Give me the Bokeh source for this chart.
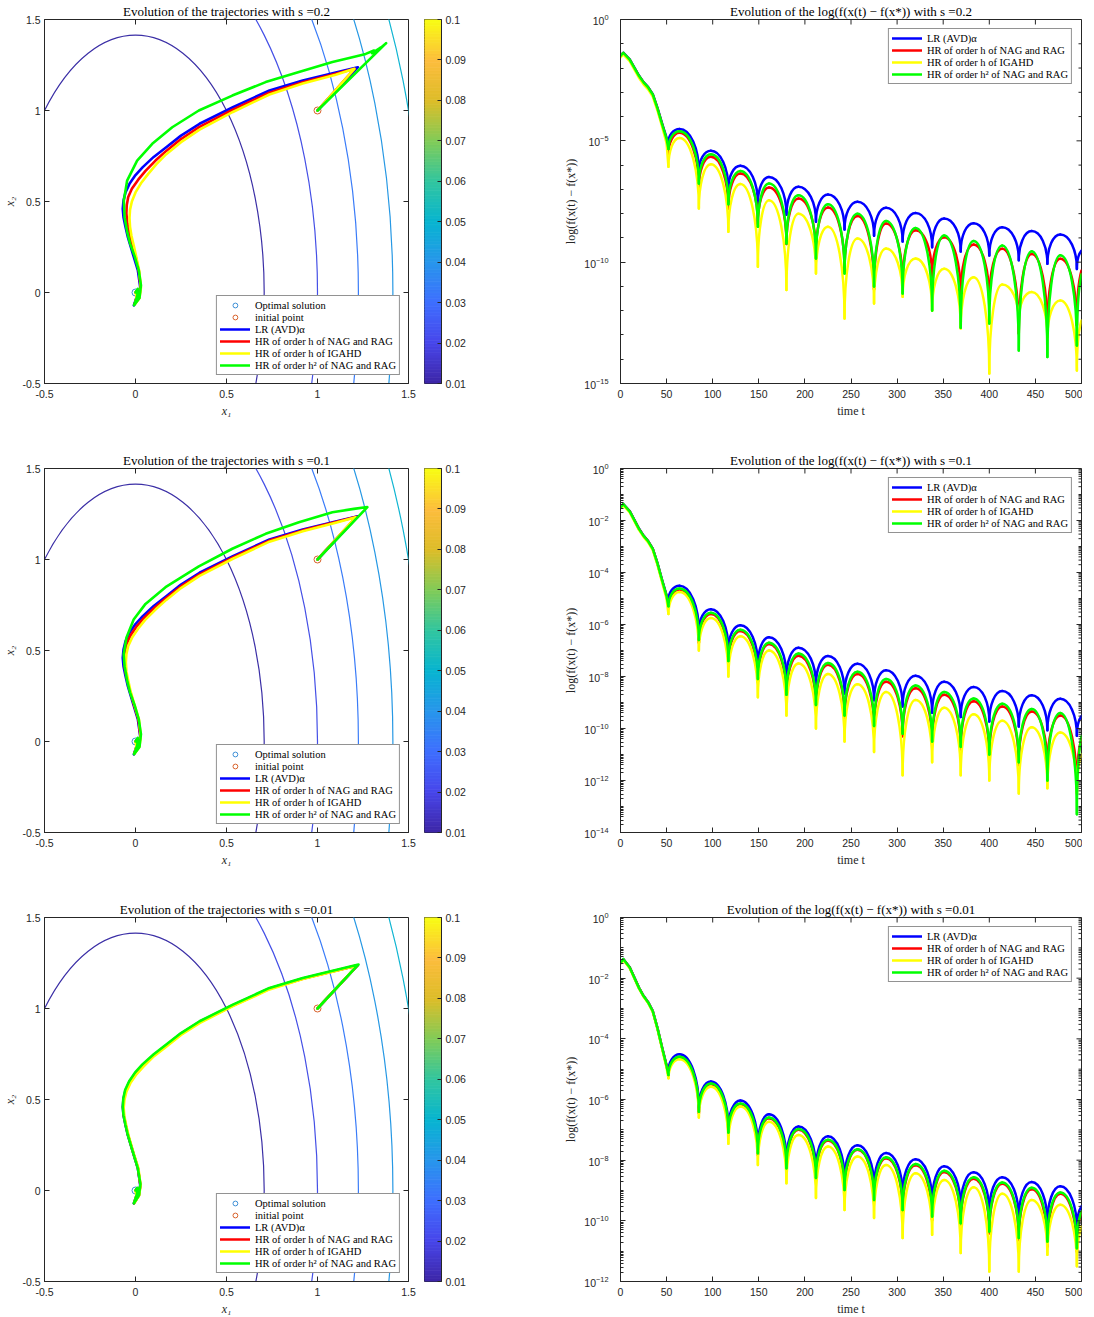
from bokeh.plotting import figure
from bokeh.models import (Range1d, FixedTicker, PrintfTickFormatter, Legend, LegendItem)
from bokeh.layouts import column, row
from bokeh.embed import file_html
from bokeh.resources import INLINE

# ---------------- data ----------------
S_LABELS = ["0.2", "0.1", "0.01"]
SERIES_NAMES = ["LR (AVD)α", "HR of order h of NAG and RAG",
                "HR of order h of IGAHD", "HR of order h² of NAG and RAG"]
SERIES_COLORS = ["#0000ff", "#ff0000", "#ffff00", "#00ff00"]

# contour levels of f(x) = A1*x1^2 + A2*x2^2
F_COEFS = [2.0, 0.5]
CONTOUR_LEVELS = [1, 2, 3, 4, 5]
CB_TICKS = [0.01, 0.02, 0.03, 0.04, 0.05, 0.06, 0.07, 0.08, 0.09, 0.1]
AXIS_TICKS_2D = [-0.5, 0, 0.5, 1, 1.5]
TIME_TICKS = [0, 50, 100, 150, 200, 250, 300, 350, 400, 450, 500]
OPT_POINT = [0.0, 0.0]
INIT_POINT = [1.0, 1.0]

# trajectories (x1, x2) -- LR is the same continuous trajectory in every panel
LR_X1 = [1.0, 1.222, 1.10, 0.919, 0.736, 0.535, 0.352, 0.25, 0.169, 0.10, 0.040, 0.0, -0.033, -0.055,
         -0.066, -0.07, -0.066, -0.055, -0.042, -0.015, 0.013, 0.026, 0.018, -0.009, 0.005, 0.008, 0.0]
LR_X2 = [1.0, 1.238, 1.209, 1.165, 1.11, 1.018, 0.927, 0.862, 0.798, 0.745, 0.689, 0.645, 0.597, 0.55,
         0.505, 0.46, 0.414, 0.36, 0.304, 0.213, 0.121, 0.029, -0.026, -0.071, -0.03, 0.01, 0.0]

S02_RED_X1 = [1.0, 1.203, 1.10, 0.919, 0.736, 0.535, 0.352, 0.25, 0.169, 0.11, 0.055, 0.015, -0.02, -0.04,
              -0.048, -0.05, -0.045, -0.035, -0.02, 0.0, 0.018, 0.028, 0.02, -0.005, 0.006, 0.006, 0.0]
S02_RED_X2 = [1.0, 1.229, 1.202, 1.155, 1.098, 1.004, 0.91, 0.843, 0.778, 0.725, 0.668, 0.62, 0.57, 0.525,
              0.48, 0.435, 0.38, 0.33, 0.27, 0.2, 0.121, 0.029, -0.03, -0.065, -0.025, 0.008, 0.0]
S02_YEL_X1 = [1.0, 1.203, 1.10, 0.919, 0.736, 0.535, 0.352, 0.25, 0.169, 0.115, 0.07, 0.03, 0.0, -0.02,
              -0.03, -0.033, -0.03, -0.022, -0.01, 0.003, 0.02, 0.03, 0.022, 0.0, 0.006, 0.0]
S02_YEL_X2 = [1.0, 1.229, 1.197, 1.148, 1.088, 0.992, 0.895, 0.826, 0.76, 0.705, 0.652, 0.6, 0.55, 0.5,
              0.455, 0.41, 0.36, 0.31, 0.26, 0.2, 0.121, 0.029, -0.03, -0.06, -0.02, 0.0]
S02_GRN_X1 = [1.0, 1.377, 1.33, 1.345, 1.30, 1.31, 1.265, 1.18, 1.082, 0.898, 0.715, 0.532, 0.348, 0.202,
              0.092, 0.009, -0.046, -0.064, -0.06, -0.045, -0.03, -0.005, 0.018, 0.03, 0.022, -0.008,
              0.01, 0.012, 0.0]
S02_GRN_X2 = [1.0, 1.37, 1.33, 1.345, 1.315, 1.33, 1.311, 1.29, 1.266, 1.211, 1.156, 1.082, 1.0, 0.908,
              0.817, 0.725, 0.615, 0.505, 0.414, 0.33, 0.27, 0.2, 0.121, 0.04, -0.03, -0.07,
              -0.02, 0.02, 0.0]

S01_RED_X1 = [1.0, 1.215, 1.10, 0.919, 0.736, 0.535, 0.352, 0.25, 0.169, 0.105, 0.047, 0.007, -0.026, -0.048,
              -0.058, -0.061, -0.058, -0.048, -0.035, -0.01, 0.016, 0.027, 0.019, -0.007, 0.005, 0.007, 0.0]
S01_RED_X2 = [1.0, 1.235, 1.206, 1.16, 1.104, 1.011, 0.918, 0.852, 0.788, 0.735, 0.679, 0.633, 0.585, 0.538,
              0.492, 0.447, 0.4, 0.35, 0.295, 0.207, 0.121, 0.029, -0.028, -0.068, -0.028, 0.009, 0.0]
S01_YEL_X1 = [1.0, 1.21, 1.10, 0.919, 0.736, 0.535, 0.352, 0.25, 0.169, 0.11, 0.053, 0.014, -0.018, -0.04,
              -0.05, -0.053, -0.05, -0.04, -0.028, -0.005, 0.019, 0.029, 0.021, -0.004, 0.005, 0.0]
S01_YEL_X2 = [1.0, 1.232, 1.202, 1.155, 1.098, 1.004, 0.91, 0.843, 0.778, 0.725, 0.668, 0.62, 0.572, 0.525,
              0.48, 0.435, 0.385, 0.335, 0.28, 0.2, 0.121, 0.029, -0.03, -0.065, -0.025, 0.0]
S01_GRN_X1 = [1.0, 1.274, 1.20, 1.082, 0.898, 0.715, 0.532, 0.348, 0.165, 0.055, -0.01, -0.05, -0.065,
              -0.06, -0.045, -0.03, -0.005, 0.018, 0.03, 0.022, -0.008, 0.01, 0.012, 0.0]
S01_GRN_X2 = [1.0, 1.288, 1.278, 1.26, 1.205, 1.141, 1.059, 0.962, 0.848, 0.756, 0.67, 0.57, 0.48,
              0.414, 0.33, 0.27, 0.2, 0.121, 0.04, -0.03, -0.07, -0.02, 0.02, 0.0]

S001_RED_X1 = [1.0, 1.22, 1.10, 0.919, 0.736, 0.535, 0.352, 0.25, 0.169, 0.10, 0.042, 0.002, -0.031, -0.053,
               -0.064, -0.068, -0.064, -0.053, -0.04, -0.013, 0.014, 0.027, 0.019, -0.008, 0.005, 0.008, 0.0]
S001_RED_X2 = [1.0, 1.237, 1.208, 1.164, 1.108, 1.016, 0.924, 0.859, 0.795, 0.742, 0.686, 0.642, 0.594, 0.547,
               0.502, 0.457, 0.411, 0.357, 0.301, 0.21, 0.121, 0.029, -0.027, -0.07, -0.03, 0.01, 0.0]
S001_YEL_X1 = [1.0, 1.218, 1.10, 0.919, 0.736, 0.535, 0.352, 0.25, 0.169, 0.102, 0.045, 0.005, -0.028, -0.05,
               -0.061, -0.065, -0.061, -0.05, -0.037, -0.011, 0.016, 0.028, 0.02, -0.006, 0.005, 0.0]
S001_YEL_X2 = [1.0, 1.236, 1.206, 1.162, 1.105, 1.013, 0.92, 0.855, 0.79, 0.738, 0.682, 0.638, 0.59, 0.543,
               0.498, 0.453, 0.407, 0.353, 0.297, 0.207, 0.121, 0.029, -0.028, -0.068, -0.028, 0.0]
S001_GRN_X1 = [1.0, 1.225, 1.10, 0.919, 0.736, 0.535, 0.352, 0.25, 0.169, 0.10, 0.038, -0.002, -0.035, -0.057,
               -0.067, -0.07, -0.066, -0.055, -0.042, -0.015, 0.013, 0.027, 0.019, -0.009, 0.008, 0.01, 0.0]
S001_GRN_X2 = [1.0, 1.242, 1.212, 1.168, 1.113, 1.021, 0.93, 0.865, 0.802, 0.749, 0.693, 0.649, 0.6, 0.552,
               0.505, 0.46, 0.414, 0.36, 0.304, 0.213, 0.121, 0.035, -0.026, -0.071, -0.02, 0.015, 0.0]

# log10(f(x(t)) - f(x*)) : troughs, peaks, end value, start segment
TROUGH_T = [52, 85, 117, 149, 180, 212, 243, 275, 306, 338, 369, 400, 432, 463, 495]
PEAK_T = [64, 98, 130, 161, 193, 225, 257, 288, 320, 351, 383, 414, 446, 477]
END_T = 500
START_T = [0, 3, 10, 20, 25, 30, 35, 40, 45, 50]

LR_START = [-1.49, -1.37, -1.64, -2.31, -2.58, -2.79, -3.08, -3.63, -4.27, -4.88]
LR_TROUGH = [-5.08, -6.27, -6.98, -7.58, -8.05, -8.33, -8.65, -8.91, -9.15, -9.39, -9.56, -9.73, -9.92, -10.07, -10.28]
LR_PEAK = [-4.51, -5.41, -6.03, -6.49, -6.89, -7.21, -7.51, -7.76, -7.97, -8.2, -8.4, -8.56, -8.72, -8.86]
LR_END = -9.52

S02_RED_START = [-1.5, -1.38, -1.66, -2.33, -2.6, -2.81, -3.1, -3.66, -4.31, -4.95]
S02_RED_TROUGH = [-5.55, -6.92, -7.79, -8.43, -9.25, -9.64, -10.36, -11.12, -10.95, -10.6, -11.36, -11.6, -12.94, -12.8, -12.6]
S02_RED_PEAK = [-4.67, -5.66, -6.35, -6.92, -7.38, -7.75, -8.1, -8.41, -8.68, -8.97, -9.27, -9.45, -9.66, -9.86]
S02_RED_END = -10.34
S02_YEL_START = [-1.56, -1.44, -1.72, -2.4, -2.67, -2.88, -3.18, -3.74, -4.4, -5.1]
S02_YEL_TROUGH = [-6.07, -7.79, -8.75, -10.19, -11.15, -10.47, -12.32, -11.7, -11.43, -12.0, -12.73, -14.59, -12.4, -13.09, -14.46]
S02_YEL_PEAK = [-4.88, -5.97, -6.78, -7.45, -8.0, -8.54, -9.02, -9.44, -9.85, -10.27, -10.62, -10.92, -11.23, -11.58]
S02_YEL_END = -12.4
S02_GRN_START = [-1.5, -1.37, -1.65, -2.32, -2.59, -2.8, -3.09, -3.65, -4.3, -4.92]
S02_GRN_TROUGH = [-5.34, -6.76, -7.61, -8.54, -9.23, -9.85, -10.47, -11.0, -11.29, -11.99, -12.7, -12.53, -13.64, -13.91, -13.43]
S02_GRN_PEAK = [-4.6, -5.55, -6.24, -6.76, -7.24, -7.61, -8.0, -8.3, -8.59, -8.9, -9.13, -9.31, -9.55, -9.72]
S02_GRN_END = -10.5

S01_RED_START = [-1.5, -1.38, -1.65, -2.32, -2.59, -2.8, -3.09, -3.65, -4.3, -4.92]
S01_RED_TROUGH = [-5.35, -6.7, -7.5, -8.2, -8.8, -9.2, -9.6, -10.0, -10.3, -10.6, -10.8, -11.1, -11.4, -11.5, -12.3]
S01_RED_PEAK = [-4.65, -5.6, -6.25, -6.75, -7.2, -7.55, -7.9, -8.2, -8.45, -8.7, -8.95, -9.15, -9.35, -9.5]
S01_RED_END = -10.4
S01_YEL_START = [-1.53, -1.41, -1.69, -2.36, -2.63, -2.84, -3.14, -3.7, -4.36, -5.02]
S01_YEL_TROUGH = [-5.6, -7.0, -8.0, -8.8, -9.5, -10.0, -10.5, -10.9, -11.8, -11.3, -11.8, -12.0, -12.5, -12.3, -12.5]
S01_YEL_PEAK = [-4.75, -5.75, -6.45, -7.0, -7.5, -7.9, -8.3, -8.6, -8.9, -9.2, -9.45, -9.7, -9.95, -10.15]
S01_YEL_END = -11.0
S01_GRN_START = [-1.5, -1.37, -1.65, -2.32, -2.59, -2.8, -3.09, -3.64, -4.29, -4.91]
S01_GRN_TROUGH = [-5.3, -6.6, -7.4, -8.1, -8.7, -9.1, -9.5, -9.9, -10.2, -10.5, -10.7, -11.0, -11.3, -12.0, -13.3]
S01_GRN_PEAK = [-4.62, -5.55, -6.2, -6.7, -7.12, -7.48, -7.82, -8.1, -8.35, -8.6, -8.85, -9.05, -9.25, -9.4]
S01_GRN_END = -10.3

S001_RED_START = [-1.5, -1.38, -1.65, -2.32, -2.59, -2.8, -3.09, -3.64, -4.28, -4.9]
S001_RED_TROUGH = [-5.21, -6.45, -7.17, -7.83, -8.32, -8.65, -9.03, -9.36, -9.69, -9.97, -10.13, -10.41, -10.63, -10.85, -11.01]
S001_RED_PEAK = [-4.61, -5.49, -6.15, -6.62, -7.0, -7.35, -7.66, -7.94, -8.17, -8.39, -8.61, -8.78, -8.96, -9.11]
S001_RED_END = -9.73
S001_YEL_START = [-1.52, -1.4, -1.67, -2.34, -2.61, -2.82, -3.11, -3.67, -4.32, -4.96]
S001_YEL_TROUGH = [-5.3, -6.59, -7.46, -8.16, -8.76, -9.25, -9.64, -9.91, -10.57, -10.46, -11.06, -11.67, -11.67, -11.12, -11.5]
S001_YEL_PEAK = [-4.67, -5.58, -6.23, -6.73, -7.17, -7.55, -7.88, -8.16, -8.43, -8.65, -8.89, -9.11, -9.31, -9.47]
S001_YEL_END = -10.19
S001_GRN_START = [-1.5, -1.37, -1.65, -2.32, -2.59, -2.8, -3.09, -3.64, -4.28, -4.9]
S001_GRN_TROUGH = [-5.19, -6.4, -7.09, -7.77, -8.27, -8.59, -8.98, -9.31, -9.64, -9.86, -10.08, -10.35, -10.57, -10.68, -10.9]
S001_GRN_PEAK = [-4.59, -5.47, -6.13, -6.59, -6.97, -7.33, -7.64, -7.9, -8.13, -8.35, -8.56, -8.74, -8.91, -9.07]
S001_GRN_END = -9.69

LOG_LOW_EXP = [-15, -14, -12]
LOG_LABEL_STEP = [5, 2, 2]

# ---------------- style ----------------
AX = "#262626"
SERIF = "Liberation Serif"
SANS = "Liberation Sans"
FRAME_H = 364
TICK_PX = 5
MINOR_PX = 3
PARULA_KEYS = [(0.2422, 0.1504, 0.6603), (0.2803, 0.2782, 0.9221), (0.2440, 0.4358, 0.9988),
               (0.1540, 0.5902, 0.9218), (0.0297, 0.7082, 0.8163), (0.1938, 0.7758, 0.6251),
               (0.5044, 0.7993, 0.3480), (0.8634, 0.7406, 0.1596), (0.9900, 0.7400, 0.2400),
               (0.9769, 0.9839, 0.0805)]
CONTOUR_COLORS = ["#3b2fa6", "#4550e6", "#3a7cf8", "#2698e4", "#10b5d2"]


def parula(n):
    out = []
    m = len(PARULA_KEYS) - 1
    for i in range(n):
        t = i / (n - 1) * m
        j = min(int(t), m - 1)
        f = t - j
        c = [PARULA_KEYS[j][k] * (1 - f) + PARULA_KEYS[j + 1][k] * f for k in range(3)]
        out.append("#%02x%02x%02x" % tuple(int(round(v * 255)) for v in c))
    return out


PARULA = parula(128)


def style_axis(ax, standoff=5):
    ax.axis_line_color = AX
    ax.major_tick_line_color = AX
    ax.minor_tick_line_color = AX
    ax.major_tick_in = TICK_PX
    ax.major_tick_out = 0
    ax.minor_tick_in = MINOR_PX
    ax.minor_tick_out = 0
    ax.major_label_text_font = SANS
    ax.major_label_text_font_size = "10.5px"
    ax.major_label_text_color = AX
    ax.major_label_standoff = standoff
    ax.axis_label_text_font = SERIF
    ax.axis_label_text_font_size = "12px"
    ax.axis_label_text_color = AX
    ax.axis_label_text_font_style = "normal"
    ax.axis_label_standoff = 3


def base_fig(bottom, left, right, fw, **kw):
    p = figure(frame_width=fw, frame_height=FRAME_H, output_backend="svg", toolbar_location=None,
               min_border_left=left, min_border_right=right, min_border_top=17,
               min_border_bottom=bottom, background_fill_color="white", border_fill_color="white", **kw)
    p.grid.visible = False
    p.outline_line_color = AX
    p.outline_line_width = 1
    p.title.text_font = SERIF
    p.title.text_font_size = "13px"
    p.title.text_font_style = "normal"
    p.title.text_color = "black"
    p.title.align = "center"
    p.title.standoff = 2
    return p


def style_legend(leg, margin):
    leg.label_text_font = SERIF
    leg.label_text_font_size = "10.5px"
    leg.label_text_color = "black"
    leg.glyph_width = 30
    leg.glyph_height = 12
    leg.label_height = 12
    leg.spacing = 0
    leg.padding = 3
    leg.margin = margin
    leg.label_standoff = 5
    leg.border_line_color = AX
    leg.border_line_width = 1
    leg.background_fill_color = "white"
    leg.background_fill_alpha = 1


def traj_fig(idx, series, bottom):
    p = base_fig(bottom, 37, 16, 364, x_range=Range1d(-0.5, 1.5), y_range=Range1d(-0.5, 1.5))
    p.title.text = "Evolution of the trajectories with s =" + S_LABELS[idx]
    widths = [2 * (lv / F_COEFS[0]) ** 0.5 for lv in CONTOUR_LEVELS]
    heights = [2 * (lv / F_COEFS[1]) ** 0.5 for lv in CONTOUR_LEVELS]
    p.ellipse(x=[0] * len(CONTOUR_LEVELS), y=[0] * len(CONTOUR_LEVELS), width=widths, height=heights,
              fill_color=None, line_color=CONTOUR_COLORS, line_width=1.2)
    r_opt = p.scatter([OPT_POINT[0]], [OPT_POINT[1]], marker="circle", size=7, fill_color=None,
                      line_color="#3d8fd6", line_width=1)
    r_ini = p.scatter([INIT_POINT[0]], [INIT_POINT[1]], marker="circle", size=7, fill_color=None,
                      line_color="#d9622b", line_width=1)
    rs = []
    for (xs, ys), c in zip(series, SERIES_COLORS):
        rs.append(p.line(xs, ys, line_color=c, line_width=2.6, line_join="round", line_cap="round"))
    # mirror ticks on the top and right edges (inward, like the box axes)
    du = 2.0 / 364
    p.segment(x0=AXIS_TICKS_2D, y0=[1.5] * 5, x1=AXIS_TICKS_2D, y1=[1.5 - TICK_PX * du] * 5,
              line_color=AX, line_width=1)
    p.segment(x0=[1.5] * 5, y0=AXIS_TICKS_2D, x1=[1.5 - TICK_PX * du] * 5, y1=AXIS_TICKS_2D,
              line_color=AX, line_width=1)
    items = [LegendItem(label="Optimal solution", renderers=[r_opt]),
             LegendItem(label="initial point", renderers=[r_ini])]
    items += [LegendItem(label=n, renderers=[r]) for n, r in zip(SERIES_NAMES, rs)]
    leg = Legend(items=items, location="bottom_right")
    style_legend(leg, 8)
    p.add_layout(leg)
    style_axis(p.xaxis[0], 6)
    style_axis(p.yaxis[0], 4)
    p.yaxis[0].axis_label_standoff = 2
    for ax in (p.xaxis[0], p.yaxis[0]):
        ax.ticker = FixedTicker(ticks=AXIS_TICKS_2D)
        ax.formatter = PrintfTickFormatter(format="%g")
        ax.axis_label_text_font_style = "italic"
    p.xaxis[0].axis_label = "x₁"
    p.yaxis[0].axis_label = "x₂"
    return p


def colorbar_fig(bottom):
    p = figure(frame_width=17, frame_height=FRAME_H, output_backend="svg", toolbar_location=None,
               x_range=Range1d(0, 1), y_range=Range1d(CB_TICKS[0], CB_TICKS[-1]),
               x_axis_location=None, y_axis_location="right",
               min_border_left=0, min_border_right=117, min_border_top=17, min_border_bottom=bottom,
               background_fill_color="white", border_fill_color="white")
    p.grid.visible = False
    p.outline_line_color = AX
    n = len(PARULA)
    step = (CB_TICKS[-1] - CB_TICKS[0]) / n
    p.quad(left=0, right=1, bottom=[CB_TICKS[0] + i * step for i in range(n)],
           top=[CB_TICKS[0] + (i + 1) * step for i in range(n)], fill_color=PARULA,
           line_color=PARULA, line_width=0.8)
    ax = p.yaxis[0]
    style_axis(ax, 4)
    ax.major_tick_in = 4
    ax.minor_tick_in = 0
    ax.ticker = FixedTicker(ticks=CB_TICKS)
    ax.formatter = PrintfTickFormatter(format="%g")
    return p


K = 0.5523


def arch_curves(p, start, trough, peak, end, color):
    xs = START_T + [TROUGH_T[0]]
    ys = [10 ** v for v in start + [trough[0]]]
    r = p.line(xs, ys, line_color=color, line_width=2.5, line_join="round", line_cap="round")
    seg = {k: [] for k in ("x0", "y0", "x1", "y1", "cx0", "cy0", "cx1", "cy1")}

    def add(a, la, b, lb, ca, lca, cb_, lcb):
        seg["x0"].append(a); seg["y0"].append(10 ** la)
        seg["x1"].append(b); seg["y1"].append(10 ** lb)
        seg["cx0"].append(ca); seg["cy0"].append(10 ** lca)
        seg["cx1"].append(cb_); seg["cy1"].append(10 ** lcb)

    for i in range(len(PEAK_T)):
        ta, la = TROUGH_T[i], trough[i]
        tp, lp = PEAK_T[i], peak[i]
        tb, lb = TROUGH_T[i + 1], trough[i + 1]
        add(ta, la, tp, lp, ta, la + K * (lp - la), tp - K * (tp - ta), lp)
        add(tp, lp, tb, lb, tp + K * (tb - tp), lp, tb, lb + K * (lp - lb))
    ta, la = TROUGH_T[-1], trough[-1]
    add(ta, la, END_T, end, ta, la + 0.6 * (end - la), END_T - 0.5 * (END_T - ta), end - 0.15 * (end - la))
    p.bezier(line_color=color, line_width=2.5, line_cap="round", **seg)
    return r


def log_fig(idx, series, bottom):
    lo = LOG_LOW_EXP[idx]
    p = base_fig(bottom, 62, 1, 461, x_range=Range1d(0, 500), y_range=Range1d(10.0 ** lo, 1.0),
                 y_axis_type="log")
    p.title.text = "Evolution of the log(f(x(t) − f(x*)) with s =" + S_LABELS[idx]
    rs = [arch_curves(p, *sdata, c) for sdata, c in zip(series, SERIES_COLORS)]
    step = LOG_LABEL_STEP[idx]
    majors = [10.0 ** e for e in range(0, lo - 1, -step)]
    if step == 5:
        minors = [10.0 ** e for e in range(0, lo - 1, -1) if e % step]
    else:
        minors = [m * 10.0 ** e for e in range(lo, 0) for m in range(1, 10) if not (m == 1 and e % step == 0)]
    # mirror ticks on top and right edges
    px_dec = FRAME_H / float(-lo)
    tx = 500.0 / 461
    nt = len(TIME_TICKS)
    p.segment(x0=TIME_TICKS, y0=[1.0] * nt, x1=TIME_TICKS, y1=[10 ** (-TICK_PX / px_dec)] * nt,
              line_color=AX, line_width=1)
    p.segment(x0=[500] * len(majors), y0=majors, x1=[500 - TICK_PX * tx] * len(majors), y1=majors,
              line_color=AX, line_width=1)
    p.segment(x0=[500] * len(minors), y0=minors, x1=[500 - MINOR_PX * tx] * len(minors), y1=minors,
              line_color=AX, line_width=1)
    leg = Legend(items=[LegendItem(label=n, renderers=[r]) for n, r in zip(SERIES_NAMES, rs)],
                 location="top_right")
    style_legend(leg, 9)
    p.add_layout(leg)
    style_axis(p.xaxis[0], 6)
    p.xaxis[0].ticker = FixedTicker(ticks=TIME_TICKS)
    p.xaxis[0].axis_label = "time t"
    style_axis(p.yaxis[0], 12)
    p.yaxis[0].ticker = FixedTicker(ticks=majors, minor_ticks=minors)
    p.yaxis[0].axis_label = "log(f(x(t) − f(x*))"
    return p


TRAJ = [
    [(LR_X1, LR_X2), (S02_RED_X1, S02_RED_X2), (S02_YEL_X1, S02_YEL_X2), (S02_GRN_X1, S02_GRN_X2)],
    [(LR_X1, LR_X2), (S01_RED_X1, S01_RED_X2), (S01_YEL_X1, S01_YEL_X2), (S01_GRN_X1, S01_GRN_X2)],
    [(LR_X1, LR_X2), (S001_RED_X1, S001_RED_X2), (S001_YEL_X1, S001_YEL_X2), (S001_GRN_X1, S001_GRN_X2)],
]
LOGS = [
    [(LR_START, LR_TROUGH, LR_PEAK, LR_END),
     (S02_RED_START, S02_RED_TROUGH, S02_RED_PEAK, S02_RED_END),
     (S02_YEL_START, S02_YEL_TROUGH, S02_YEL_PEAK, S02_YEL_END),
     (S02_GRN_START, S02_GRN_TROUGH, S02_GRN_PEAK, S02_GRN_END)],
    [(LR_START, LR_TROUGH, LR_PEAK, LR_END),
     (S01_RED_START, S01_RED_TROUGH, S01_RED_PEAK, S01_RED_END),
     (S01_YEL_START, S01_YEL_TROUGH, S01_YEL_PEAK, S01_YEL_END),
     (S01_GRN_START, S01_GRN_TROUGH, S01_GRN_PEAK, S01_GRN_END)],
    [(LR_START, LR_TROUGH, LR_PEAK, LR_END),
     (S001_RED_START, S001_RED_TROUGH, S001_RED_PEAK, S001_RED_END),
     (S001_YEL_START, S001_YEL_TROUGH, S001_YEL_PEAK, S001_YEL_END),
     (S001_GRN_START, S001_GRN_TROUGH, S001_GRN_PEAK, S001_GRN_END)],
]

rows = []
for i in range(3):
    bottom = 66 if i < 2 else 32
    rows.append(row(traj_fig(i, TRAJ[i], bottom), colorbar_fig(bottom), log_fig(i, LOGS[i], bottom)))
layout = column(*rows)

open("out.html", "w").write(file_html(layout, INLINE, title="trajectories"))
